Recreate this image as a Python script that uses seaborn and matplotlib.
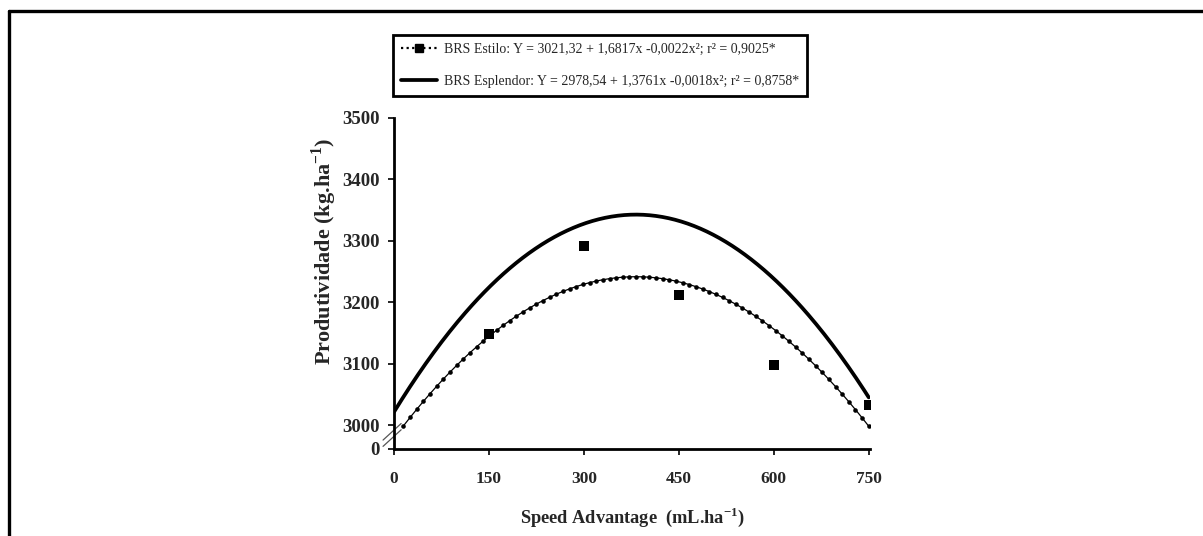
import numpy as np
import pandas as pd
import matplotlib
matplotlib.use("Agg")
import matplotlib.pyplot as plt
from matplotlib.lines import Line2D
import seaborn as sns

# ---- data ----
obs_x = [150, 300, 450, 600, 750]
obs_y = [3148, 3291, 3211, 3098, 3033]
# fitted quadratic coefficients (a, b, c) as printed in the legend
coef_estilo = [3021.32, 1.6817, -0.0022]
coef_esplendor = [2978.54, 1.3761, -0.0018]
x_ticks = [0, 150, 300, 450, 600, 750]
y_ticks = [3000, 3100, 3200, 3300, 3400, 3500]
label_estilo = "BRS Estilo: Y = 3021,32 + 1,6817x -0,0022x²; r² = 0,9025*"
label_esplendor = "BRS Esplendor: Y = 2978,54 + 1,3761x -0,0018x²; r² = 0,8758*"

sns.set_theme(style="white")
plt.rcParams['font.family'] = ['Liberation Serif', 'DejaVu Serif']
plt.rcParams['mathtext.fontset'] = 'custom'
plt.rcParams['mathtext.rm'] = 'Liberation Serif'
plt.rcParams['mathtext.bf'] = 'Liberation Serif:bold'

fig = plt.figure(figsize=(12.03, 5.36), dpi=100)
ax = fig.add_axes([394/1203, 1-449/536, 476/1203, 331/536])

y_bottom = 2961
y_top = 3500

# solid curve
xs = np.linspace(0, 750, 300)
ys = coef_estilo[0] + coef_estilo[1]*xs + coef_estilo[2]*xs**2
sns.lineplot(x=xs, y=ys, ax=ax, color='black', linewidth=2.7, estimator=None, sort=False)

# dotted curve with dot markers (only the part above the break)
xd = np.arange(15, 751, 10.5)
yd = coef_esplendor[0] + coef_esplendor[1]*xd + coef_esplendor[2]*xd**2
ax.plot(xd, yd, color='black', linewidth=0.9, marker='o', markersize=3.3,
        markeredgewidth=0)

sns.scatterplot(x=obs_x, y=obs_y, ax=ax, marker='s', s=60, color='black',
                edgecolor='black', linewidth=0, zorder=5)

ax.set_xlim(0, 752)
ax.set_ylim(y_bottom, y_top)
ax.set_xticks(x_ticks)
ax.set_xticklabels([str(v) for v in x_ticks])
ax.set_yticks([y_bottom] + y_ticks)
ax.set_yticklabels(['0'] + [str(v) for v in y_ticks])

for lab in ax.get_xticklabels():
    lab.set_fontweight('bold')
    lab.set_fontsize(12.5)
for lab in ax.get_yticklabels():
    lab.set_fontweight('bold')
    lab.set_fontsize(13.5)
ax.tick_params(axis='both', direction='out', length=4, width=1.2, color='black',
               left=True, bottom=True, pad=6)
ax.tick_params(axis='x', pad=12)

for s in ['top', 'right']:
    ax.spines[s].set_visible(False)
for s in ['left', 'bottom']:
    ax.spines[s].set_color('black')
    ax.spines[s].set_linewidth(2.0)

ax.set_ylabel('Produtividade (kg.ha$^{\\mathbf{-1}}$)', fontsize=16, fontweight='bold')
ax.yaxis.set_label_coords(-0.115, (449-251)/331)
ax.set_xlabel('Speed Advantage  (mL.ha$^{\\mathbf{-1}}$)', fontsize=13.2, fontweight='bold', labelpad=13)

# axis break marks
for dy in (0.0, 0.019):
    ax.add_line(Line2D([-0.023, 0.015], [0.008 + dy, 0.058 + dy], transform=ax.transAxes,
                       color='#555555', linewidth=0.9, clip_on=False))

# legend
handles = [
    Line2D([], [], color='black', linestyle=(0, (1, 1.5)), linewidth=1.6, marker='s',
           markersize=6),
    Line2D([], [], color='black', linewidth=2.7),
]
leg = fig.legend(handles, [label_estilo, label_esplendor], loc='upper center',
                 bbox_to_anchor=(600/1203, 1-35/536), fontsize=10.0, frameon=True,
                 fancybox=False, edgecolor='black', framealpha=1, handlelength=2.6,
                 labelspacing=1.4, borderpad=0.55, handletextpad=0.5, borderaxespad=0)
leg.get_frame().set_linewidth(2.0)

# outer frame (top and left)
fig.add_artist(Line2D([9/1203, 1], [1-11/536, 1-11/536], transform=fig.transFigure,
                      color='black', linewidth=2.4))
fig.add_artist(Line2D([9/1203, 9/1203], [0, 1-11/536], transform=fig.transFigure,
                      color='black', linewidth=2.4))

fig.savefig('out.png', dpi=100, facecolor='white')
